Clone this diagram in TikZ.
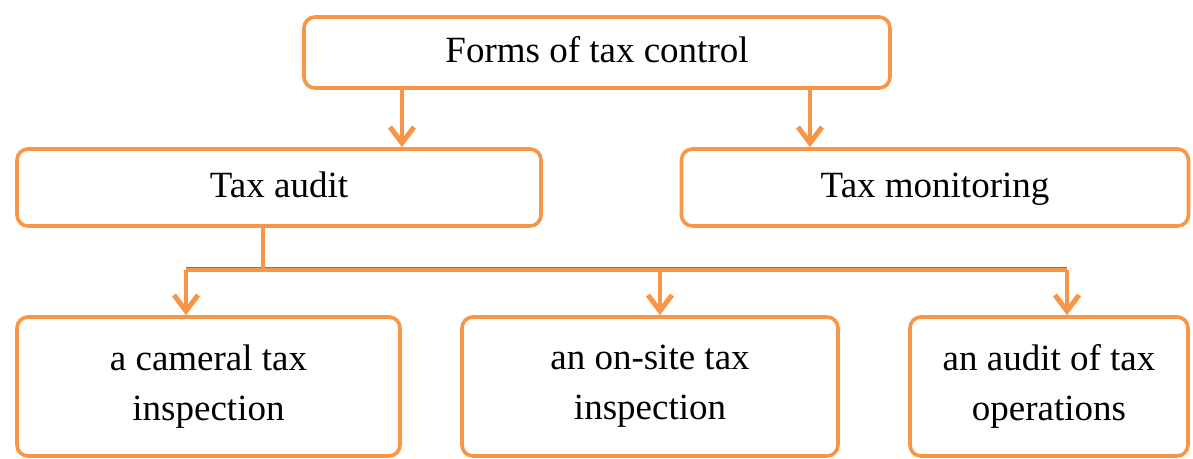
\documentclass[tikz,border=0pt]{standalone}
\usepackage{fontspec}
\setmainfont{Liberation Serif}
\usetikzlibrary{arrows.meta}
\definecolor{accent}{RGB}{247,150,70}
\definecolor{busgray}{RGB}{120,120,120}
\tikzset{
  box/.style={draw=accent, line width=3.6pt, rounded corners=11pt, fill=white,
    align=center, inner sep=0pt, font=\fontsize{37}{48}\selectfont},
  link/.style={draw=accent, line width=3.8pt},
  arrowlink/.style={link, -{Straight Barb[length=16pt,width=24pt,line width=5pt]}},
}
\begin{document}
\begin{tikzpicture}[x=1pt,y=-1pt]
\useasboundingbox (0,0) rectangle (1193,458);

% top level
\node[box, minimum width=586pt, minimum height=71pt] (forms) at (597,52.5) {\strut Forms of tax control};

% second level
\node[box, minimum width=524pt, minimum height=77pt] (audit) at (279,187.5) {\strut Tax audit};
\node[box, minimum width=507pt, minimum height=77pt] (monitor) at (935,187.5) {\strut Tax monitoring};

% third level
\node[box, minimum width=383pt, minimum height=139pt] (cameral) at (208.5,386.5) {a cameral tax\\[2pt]inspection};
\node[box, minimum width=376pt, minimum height=139pt] (onsite) at (650,386.5) {an on-site tax\\[2pt]inspection};
\node[box, minimum width=278pt, minimum height=139pt] (ops) at (1049,386.5) {an audit of tax\\[2pt]operations};

% branch points
\coordinate (busL) at (186,270);
\coordinate (busM) at (263,270);
\coordinate (busC) at (660,270);
\coordinate (busR) at (1067,270);

% first-level arrows
\draw[arrowlink] (forms.south -| 402,0) -- (audit.north -| 402,0);
\draw[arrowlink] (forms.south -| 810,0) -- (monitor.north -| 810,0);

% bus with its shadow
\draw[draw=busgray, line width=2pt] ([yshift=2.5pt]busL) -- ([yshift=2.5pt]busR);
\draw[link] (audit.south -| busM) -- (busM);
\draw[link, line join=miter] (busL) -- (busR);

% bus drops
\draw[arrowlink] (busL) -- (cameral.north -| busL);
\draw[arrowlink] (busC) -- (onsite.north -| busC);
\draw[arrowlink] (busR) -- (ops.north -| busR);
\end{tikzpicture}
\end{document}
